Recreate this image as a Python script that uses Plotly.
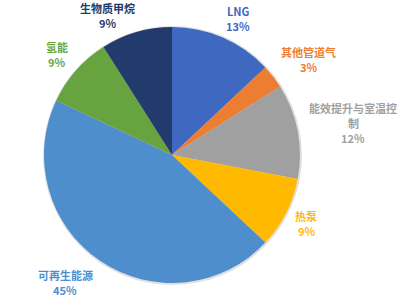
import plotly.graph_objects as go

labels = ["LNG", "其他管道气", "能效提升与室温控制", "热泵", "可再生能源", "氢能", "生物质甲烷"]
values = [13, 3, 12, 9, 45, 9, 9]
label_lines = [["LNG"], ["其他管道气"], ["能效提升与室温控", "制"], ["热泵"], ["可再生能源"], ["氢能"], ["生物质甲烷"]]
colors = ["#3F68C1", "#ED7D31", "#A0A0A0", "#FFB900", "#4E8ECD", "#67A43F", "#223B6C"]

# label top-line positions (pixels, layout only)
label_pos = [(238, 11), (308, 52), (353, 108), (306, 216), (65, 275), (57, 47), (107, 8)]
LINE = 15

W, H = 400, 303
fig = go.Figure()
fig.add_trace(go.Pie(
    labels=labels, values=values, sort=False, direction="clockwise", rotation=0,
    marker=dict(colors=colors, line=dict(width=0)),
    textinfo="none", hoverinfo="label+percent", showlegend=False,
    domain=dict(x=[(172-128)/W, (172+128)/W], y=[1-283/H, 1-27/H]),
))

# soft shadow behind pie
fig.add_shape(type="circle", xref="paper", yref="paper", layer="below",
              x0=(172-129)/W, x1=(172+130)/W, y0=1-285/H, y1=1-26/H,
              fillcolor="rgba(0,0,0,0.12)", line=dict(width=0))

for lines, v, c, (px, py) in zip(label_lines, values, colors, label_pos):
    all_lines = lines + [f"{v}%"]
    for i, t in enumerate(all_lines):
        fig.add_annotation(x=px/W, y=1-(py+i*LINE)/H, xref="paper", yref="paper",
                           text=f"<b>{t}</b>", showarrow=False, borderpad=0,
                           font=dict(family="Noto Sans CJK SC", size=11, color=c),
                           align="center", xanchor="center", yanchor="middle")

fig.update_layout(width=W, height=H, margin=dict(l=0, r=0, t=0, b=0),
                  paper_bgcolor="white", plot_bgcolor="white")
fig.write_html("out.html")
